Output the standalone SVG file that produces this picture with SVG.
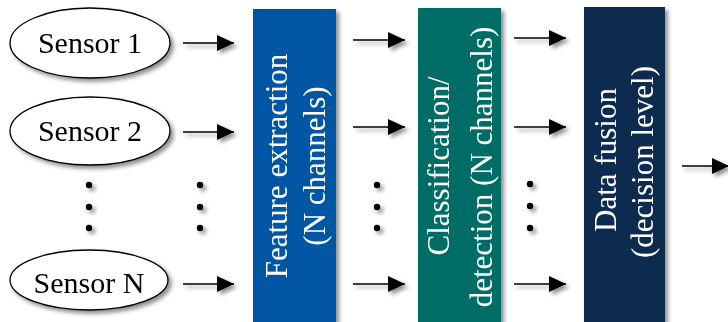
<svg xmlns="http://www.w3.org/2000/svg" width="728" height="322" viewBox="0 0 728 322">
  <defs>
    <filter id="shadow" x="-20%" y="-20%" width="150%" height="150%">
      <feDropShadow dx="3" dy="3" stdDeviation="2.2" flood-color="#000" flood-opacity="0.45"/>
    </filter>
    <marker id="head" markerUnits="userSpaceOnUse" markerWidth="18" markerHeight="18" viewBox="0 0 18 18" refX="17" refY="9" orient="auto">
      <polygon points="0,1 17,9 0,17" fill="#000"/>
    </marker>
    <style>
      .sensor ellipse { fill: #fff; stroke: #000; stroke-width: 1.3; }
      .lbl { font-family: "Liberation Serif", "Times New Roman", serif; font-size: 30px; fill: #000; text-anchor: middle; }
      .vt { font-family: "Liberation Serif", "Times New Roman", serif; font-size: 31px; fill: #fff; text-anchor: middle; }
      .arrow { stroke: #000; stroke-width: 1.6; fill: none; marker-end: url(#head); }
      .dot { fill: #000; }
    </style>
  </defs>

  <!-- sensors -->
  <g id="sensor1" class="sensor" filter="url(#shadow)">
    <ellipse cx="90" cy="43" rx="80" ry="35"/>
    <text class="lbl" x="90" y="53">Sensor 1</text>
  </g>
  <g id="sensor2" class="sensor" filter="url(#shadow)">
    <ellipse cx="90" cy="131" rx="80" ry="34"/>
    <text class="lbl" x="90" y="141">Sensor 2</text>
  </g>
  <g id="sensorN" class="sensor" filter="url(#shadow)">
    <ellipse cx="89" cy="280" rx="79" ry="30"/>
    <text class="lbl" x="89" y="293">Sensor N</text>
  </g>

  <!-- processing stages -->
  <g id="feature-extraction" filter="url(#shadow)">
    <rect x="253" y="9" width="83" height="320" fill="#0057A3"/>
    <text class="vt" transform="translate(287,166) rotate(-90)">Feature extraction</text>
    <text class="vt" transform="translate(325,166) rotate(-90)">(N channels)</text>
  </g>
  <g id="classification" filter="url(#shadow)">
    <rect x="418" y="8" width="83" height="320" fill="#006C66"/>
    <text class="vt" transform="translate(449,166) rotate(-90)">Classification/</text>
    <text class="vt" transform="translate(492,167) rotate(-90)">detection (N channels)</text>
  </g>
  <g id="data-fusion" filter="url(#shadow)">
    <rect x="584" y="7" width="81" height="322" fill="#0B2950"/>
    <text class="vt" transform="translate(616,160) rotate(-90)">Data fusion</text>
    <text class="vt" transform="translate(653,162) rotate(-90)">(decision level)</text>
  </g>

  <!-- connectors -->
  <g id="connectors" filter="url(#shadow)">
    <line class="arrow" x1="183" y1="43" x2="234" y2="43"/>
    <line class="arrow" x1="183" y1="132" x2="234" y2="132"/>
    <line class="arrow" x1="183" y1="284" x2="234" y2="284"/>

    <line class="arrow" x1="353" y1="40" x2="405" y2="40"/>
    <line class="arrow" x1="353" y1="127" x2="405" y2="127"/>
    <line class="arrow" x1="353" y1="284" x2="405" y2="284"/>

    <line class="arrow" x1="514" y1="38" x2="566" y2="38"/>
    <line class="arrow" x1="514" y1="127" x2="566" y2="127"/>
    <line class="arrow" x1="514" y1="284" x2="566" y2="284"/>

    <line class="arrow" x1="682" y1="166" x2="729" y2="166"/>
  </g>

  <!-- ellipsis dots -->
  <g id="dots" filter="url(#shadow)">
    <circle class="dot" cx="89" cy="185" r="3.2"/>
    <circle class="dot" cx="89" cy="207" r="3.2"/>
    <circle class="dot" cx="89" cy="228" r="3.2"/>
    <circle class="dot" cx="200" cy="185" r="3.2"/>
    <circle class="dot" cx="200" cy="207" r="3.2"/>
    <circle class="dot" cx="200" cy="228" r="3.2"/>
    <circle class="dot" cx="377" cy="185" r="3.2"/>
    <circle class="dot" cx="377" cy="207" r="3.2"/>
    <circle class="dot" cx="377" cy="228" r="3.2"/>
    <circle class="dot" cx="530" cy="184" r="3.2"/>
    <circle class="dot" cx="530" cy="206" r="3.2"/>
    <circle class="dot" cx="530" cy="228" r="3.2"/>
  </g>
</svg>
